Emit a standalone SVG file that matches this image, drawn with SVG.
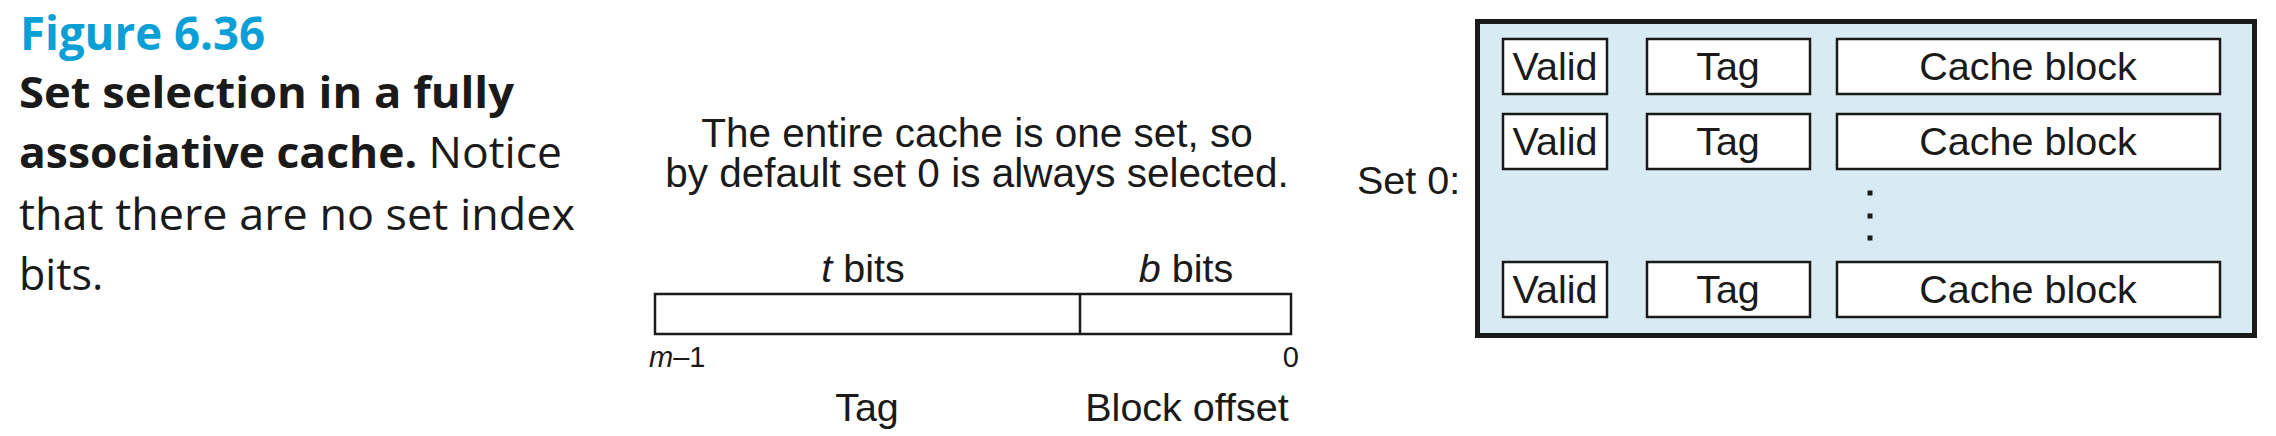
<svg xmlns="http://www.w3.org/2000/svg" width="2276" height="436" viewBox="0 0 2276 436">
<style>
.cap{font-family:"Open Sans",Lato,"Liberation Sans",sans-serif;font-size:43px;fill:#1a1a1a}
.fig{font-family:"Open Sans",Lato,"Liberation Sans",sans-serif;font-size:46px;font-weight:bold;fill:#0aa0d6}
.t{font-family:"Liberation Sans",Arial,sans-serif;font-size:39.5px;fill:#1a1a1a}
.n{font-family:"Liberation Sans",Arial,sans-serif;font-size:40.5px;fill:#1a1a1a}
.s{font-family:"Liberation Sans",Arial,sans-serif;font-size:29px;fill:#1a1a1a}
.cell{fill:#ffffff;stroke:#1a1a1a;stroke-width:2.5}
.addr{fill:#ffffff;stroke:#1a1a1a;stroke-width:2.5}
</style>
<rect width="2276" height="436" fill="#ffffff"/>
<g id="caption">
<text class="fig" x="20" y="50" textLength="245" lengthAdjust="spacingAndGlyphs">Figure 6.36</text>
<text class="cap" x="19" y="108" font-weight="bold" textLength="495" lengthAdjust="spacingAndGlyphs">Set selection in a fully</text>
<text class="cap" x="19" y="168" textLength="543" lengthAdjust="spacingAndGlyphs"><tspan font-weight="bold">associative cache.</tspan> Notice</text>
<text class="cap" x="19" y="230" textLength="556" lengthAdjust="spacingAndGlyphs">that there are no set index</text>
<text class="cap" x="19" y="290">bits.</text>
</g>
<g id="note">
<text class="n" x="977" y="147" text-anchor="middle">The entire cache is one set, so</text>
<text class="n" x="977" y="187" text-anchor="middle">by default set 0 is always selected.</text>
</g>
<g id="address">
<rect class="addr" x="655" y="294" width="636" height="40"/>
<line x1="1080" y1="294" x2="1080" y2="334" stroke="#1a1a1a" stroke-width="2.5"/>
<text class="t" x="863" y="282" text-anchor="middle"><tspan font-style="italic">t</tspan> bits</text>
<text class="t" x="1186" y="282" text-anchor="middle"><tspan font-style="italic">b</tspan> bits</text>
<text class="s" x="649" y="367"><tspan font-style="italic">m</tspan>–1</text>
<text class="s" x="1299" y="367" text-anchor="end">0</text>
<text class="t" x="867" y="421" text-anchor="middle">Tag</text>
<text class="t" x="1187" y="421" text-anchor="middle">Block offset</text>
</g>
<g id="set0">
<text class="t" x="1357" y="194">Set 0:</text>
<rect x="1477.5" y="21.5" width="777" height="314" fill="#d8eaf2" stroke="#1a1a1a" stroke-width="5"/>
<g id="line1">
<rect class="cell" x="1503" y="39" width="104" height="55"/>
<rect class="cell" x="1647" y="39" width="163" height="55"/>
<rect class="cell" x="1837" y="39" width="383" height="55"/>
<text class="t" x="1555" y="80" text-anchor="middle">Valid</text>
<text class="t" x="1728" y="80" text-anchor="middle">Tag</text>
<text class="t" x="2028" y="80" text-anchor="middle">Cache block</text>
</g>
<g id="line2">
<rect class="cell" x="1503" y="114" width="104" height="55"/>
<rect class="cell" x="1647" y="114" width="163" height="55"/>
<rect class="cell" x="1837" y="114" width="383" height="55"/>
<text class="t" x="1555" y="155" text-anchor="middle">Valid</text>
<text class="t" x="1728" y="155" text-anchor="middle">Tag</text>
<text class="t" x="2028" y="155" text-anchor="middle">Cache block</text>
</g>
<g id="dots" fill="#1a1a1a">
<rect x="1867.5" y="190.5" width="5" height="5"/>
<rect x="1867.5" y="213.5" width="5" height="5"/>
<rect x="1867.5" y="235.5" width="5" height="5"/>
</g>
<g id="line3">
<rect class="cell" x="1503" y="262" width="104" height="55"/>
<rect class="cell" x="1647" y="262" width="163" height="55"/>
<rect class="cell" x="1837" y="262" width="383" height="55"/>
<text class="t" x="1555" y="303" text-anchor="middle">Valid</text>
<text class="t" x="1728" y="303" text-anchor="middle">Tag</text>
<text class="t" x="2028" y="303" text-anchor="middle">Cache block</text>
</g>
</g>
<g id="connectors"/>
</svg>
